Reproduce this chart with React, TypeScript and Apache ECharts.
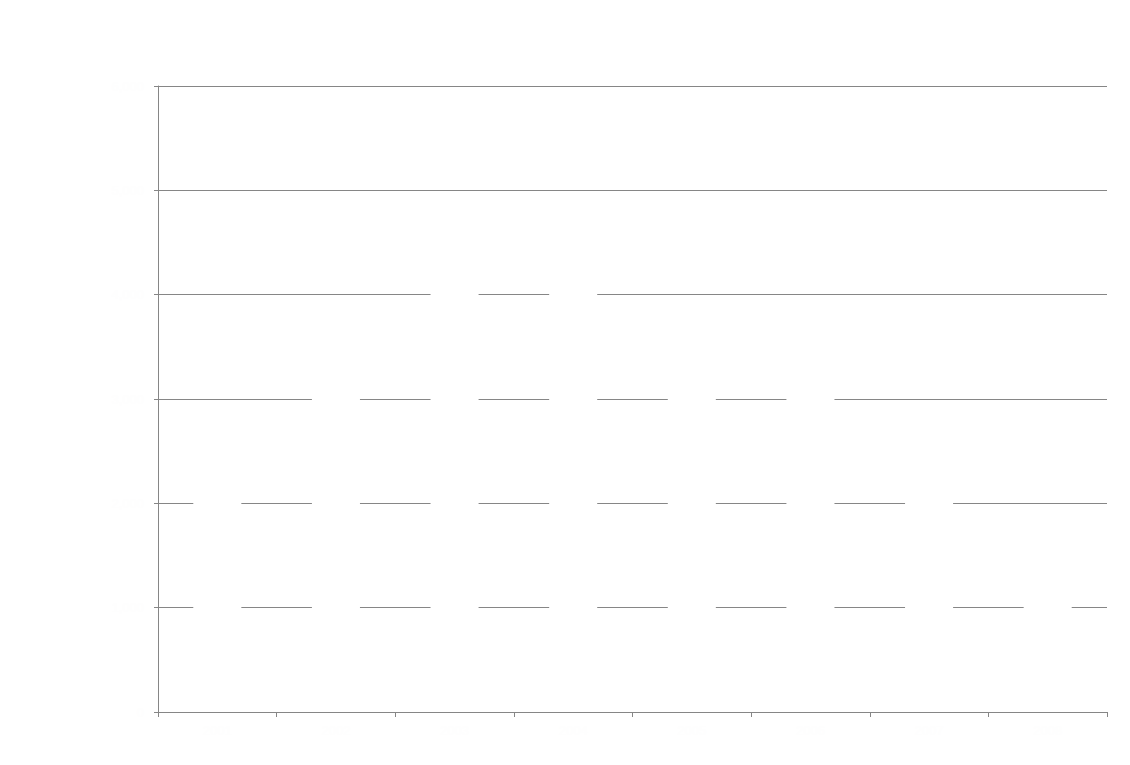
import React, { useEffect, useRef } from "react";
import * as echarts from "echarts";

const categories = ["2001", "2002", "2003", "2004", "2005", "2006", "2007", "2008"];
const values = [2500, 3400, 4500, 4300, 3700, 3300, 2600, 1500];
const yMin = 0;
const yMax = 6000;
const yInterval = 1000;

export default function App() {
  const ref = useRef<HTMLDivElement>(null);
  useEffect(() => {
    if (!ref.current) return;
    const chart = echarts.init(ref.current, undefined, { renderer: "svg" });
    chart.setOption({
      animation: false,
      backgroundColor: "#ffffff",
      grid: { left: 150, right: 15, top: 78, bottom: 45, containLabel: false },
      xAxis: {
        type: "category",
        data: categories,
        axisLine: { show: true, lineStyle: { color: "#868686", width: 1 } },
        axisTick: { show: true, length: 5, lineStyle: { color: "#868686" } },
        axisLabel: { color: "#fefefe", fontSize: 13, margin: 12, fontFamily: "Liberation Sans" },
        splitLine: { show: false },
      },
      yAxis: {
        type: "value",
        min: yMin,
        max: yMax,
        interval: yInterval,
        axisLine: { show: true, lineStyle: { color: "#868686", width: 1 } },
        axisTick: { show: true, length: 4, lineStyle: { color: "#868686" } },
        axisLabel: {
          color: "#fefefe",
          fontSize: 13,
          margin: 14,
          fontFamily: "Liberation Sans",
          formatter: (v: number) => v.toLocaleString("en-US"),
        },
        splitLine: { show: true, lineStyle: { color: "#868686", width: 1 } },
      },
      series: [
        {
          type: "bar",
          data: values,
          barWidth: "40.5%",
          itemStyle: { color: "#ffffff" },
          z: 5,
        },
      ],
    });
    return () => chart.dispose();
  }, []);
  return <div ref={ref} style={{ width: 1114, height: 749 }} />;
}
